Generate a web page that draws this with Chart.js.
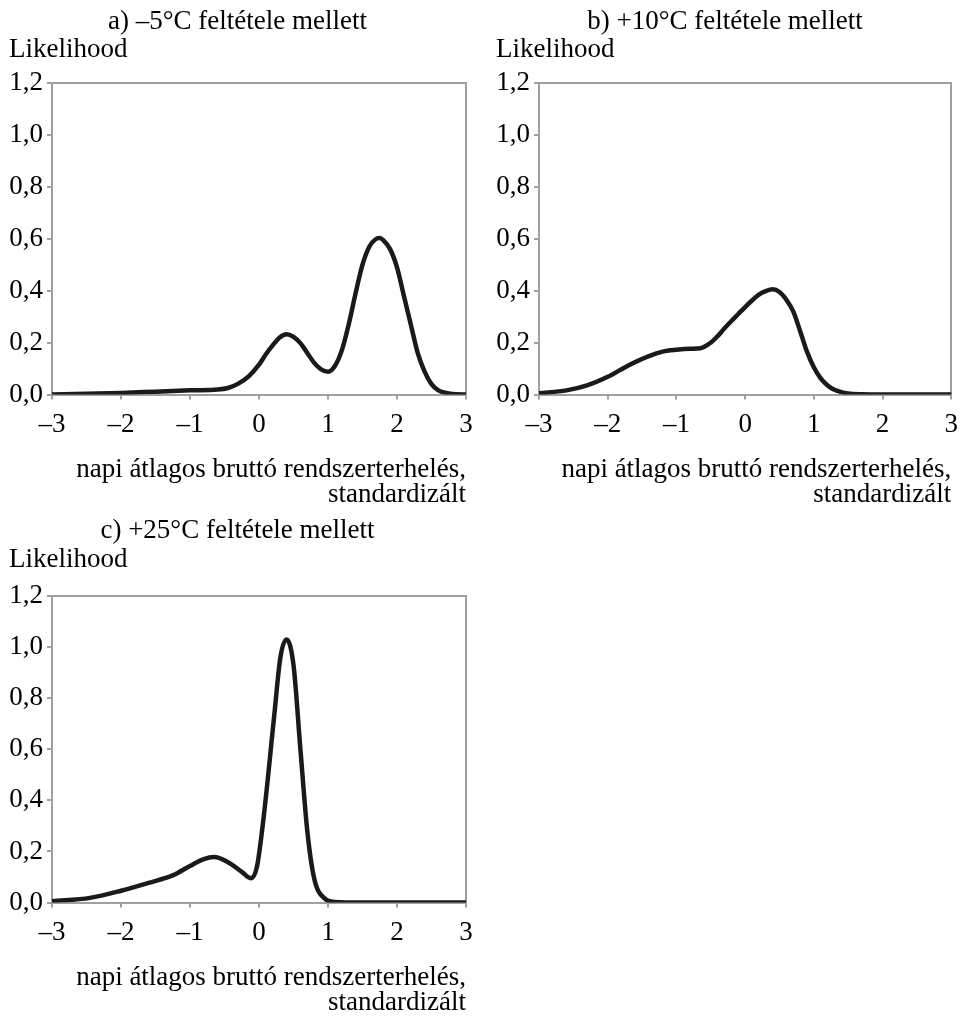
<!DOCTYPE html>
<html>
<head>
<meta charset="utf-8">
<script src="https://cdn.jsdelivr.net/npm/chart.js@4.4.1/dist/chart.umd.min.js"></script>
<style>
  body { margin: 0; background: #fff; }
  .panel { position: absolute; }
</style>
</head>
<body>
<div class="panel" style="left:0;top:0;width:486px;height:510px"><canvas id="chartA"></canvas></div>
<div class="panel" style="left:487px;top:0;width:480px;height:510px"><canvas id="chartB"></canvas></div>
<div class="panel" style="left:0;top:513px;width:486px;height:505px"><canvas id="chartC"></canvas></div>
<script>
// panel a) -5°C
const aX = [-3.0, -2.5, -2.0, -1.5, -1.0, -0.6, -0.45, -0.3, -0.15, 0.0, 0.1, 0.2, 0.3, 0.4, 0.5, 0.6, 0.7, 0.8, 0.9, 1.0, 1.1, 1.2, 1.3, 1.4, 1.5, 1.6, 1.7, 1.75, 1.8, 1.9, 2.0, 2.1, 2.2, 2.3, 2.4, 2.5, 2.6, 2.7, 2.8, 3.0];
const aY = [0.0, 0.003, 0.006, 0.011, 0.016, 0.019, 0.025, 0.042, 0.07, 0.115, 0.155, 0.19, 0.22, 0.232, 0.222, 0.198, 0.16, 0.122, 0.097, 0.088, 0.11, 0.17, 0.27, 0.39, 0.5, 0.57, 0.6, 0.603, 0.595, 0.56, 0.49, 0.38, 0.27, 0.16, 0.088, 0.04, 0.016, 0.007, 0.002, 0.0];

// panel b) +10°C
const bX = [-3.0, -2.6, -2.3, -2.0, -1.7, -1.4, -1.2, -1.0, -0.8, -0.65, -0.5, -0.4, -0.3, -0.2, -0.1, 0.0, 0.1, 0.2, 0.3, 0.4, 0.5, 0.6, 0.7, 0.8, 0.9, 1.0, 1.1, 1.2, 1.3, 1.4, 1.5, 1.7, 2.0, 2.5, 3.0];
const bY = [0.005, 0.016, 0.035, 0.068, 0.112, 0.148, 0.165, 0.172, 0.176, 0.178, 0.2, 0.225, 0.255, 0.283, 0.31, 0.337, 0.362, 0.385, 0.398, 0.405, 0.395, 0.365, 0.32, 0.245, 0.165, 0.105, 0.062, 0.035, 0.018, 0.009, 0.004, 0.001, 0.0, 0.0, 0.0];

// panel c) +25°C
const cX = [-3.0, -2.45, -2.0, -1.6, -1.25, -1.0, -0.8, -0.65, -0.45, -0.25, -0.12, -0.03, 0.07, 0.22, 0.31, 0.4, 0.5, 0.6, 0.7, 0.8, 0.95, 1.1, 1.5, 2.0, 3.0];
const cY = [0.005, 0.018, 0.046, 0.077, 0.106, 0.143, 0.17, 0.178, 0.158, 0.12, 0.095, 0.14, 0.34, 0.73, 0.96, 1.03, 0.93, 0.6, 0.28, 0.094, 0.016, 0.002, 0.0, 0.0, 0.0];

const panelTitles = ['a) \u20135\u00b0C feltétele mellett', 'b) +10\u00b0C feltétele mellett', 'c) +25\u00b0C feltétele mellett'];
const yAxisLabel = 'Likelihood';
const xAxisLabel = ['napi átlagos bruttó rendszerterhelés,', 'standardizált'];

const axisGray = '#a0a0a0';
Chart.defaults.font.family = '"Liberation Serif", "Times New Roman", serif';
Chart.defaults.font.size = 27;
Chart.defaults.color = '#000';

function makeChart(id, title, xs, ys, padRight, titleTop) {
    const points = xs.map((x, i) => ({x: x, y: ys[i]}));
    // chart area top should land at 83px inside each canvas
    const subBottom = 83 - (titleTop + 32.4 + 25);
    return new Chart(document.getElementById(id), {
        type: 'line',
        data: {
            datasets: [{
                data: points,
                xAxisID: 'x',
                yAxisID: 'y',
                borderColor: '#1a1a1a',
                borderWidth: 4.5,
                pointRadius: 0,
                cubicInterpolationMode: 'monotone',
                borderCapStyle: 'round',
                borderJoinStyle: 'round'
            }]
        },
        options: {
            responsive: true,
            maintainAspectRatio: false,
            animation: false,
            layout: { padding: { left: 9, right: padRight, top: 0, bottom: 0 } },
            plugins: {
                legend: { display: false },
                tooltip: { enabled: false },
                title: {
                    display: true,
                    text: title,
                    font: { size: 27, weight: 'normal', lineHeight: 1.2 },
                    padding: { top: titleTop, bottom: 0 }
                },
                subtitle: {
                    display: true,
                    text: yAxisLabel,
                    align: 'start',
                    font: { size: 27, weight: 'normal', lineHeight: '25px' },
                    padding: { top: 0, bottom: subBottom }
                }
            },
            scales: {
                x: {
                    type: 'linear',
                    position: 'bottom',
                    min: -3,
                    max: 3,
                    ticks: {
                        stepSize: 1,
                        padding: 9,
                        maxRotation: 0,
                        callback: v => v < 0 ? '\u2013' + Math.abs(v) : String(v)
                    },
                    grid: { drawOnChartArea: false, color: axisGray, lineWidth: 2, tickLength: 5 },
                    border: { color: axisGray, width: 2 },
                    title: {
                        display: true,
                        text: xAxisLabel,
                        align: 'end',
                        font: { size: 27, lineHeight: '25px' },
                        padding: { top: 6, bottom: 2.5 }
                    },
                    afterFit: scale => { scale.height = 115.5; }
                },
                y: {
                    type: 'linear',
                    position: 'left',
                    min: 0,
                    max: 1.2,
                    ticks: {
                        stepSize: 0.2,
                        padding: 4,
                        callback: v => v.toFixed(1).replace('.', ',')
                    },
                    grid: { drawOnChartArea: false, color: axisGray, lineWidth: 2, tickLength: 5 },
                    border: { color: axisGray, width: 2 },
                    afterFit: scale => { scale.width = 43; }
                },
                x2: {
                    type: 'linear',
                    position: 'top',
                    display: true,
                    min: -3,
                    max: 3,
                    ticks: { display: false },
                    grid: { display: false, drawTicks: false },
                    border: { color: axisGray, width: 2 }
                },
                y2: {
                    type: 'linear',
                    position: 'right',
                    display: true,
                    min: 0,
                    max: 1.2,
                    ticks: { display: false },
                    grid: { display: false, drawTicks: false },
                    border: { color: axisGray, width: 2 }
                }
            }
        }
    });
}

const chartA = makeChart('chartA', panelTitles[0], aX, aY, 20, 5.5);
const chartB = makeChart('chartB', panelTitles[1], bX, bY, 13, 5.5);
const chartC = makeChart('chartC', panelTitles[2], cX, cY, 20, 2);
</script>
</body>
</html>
